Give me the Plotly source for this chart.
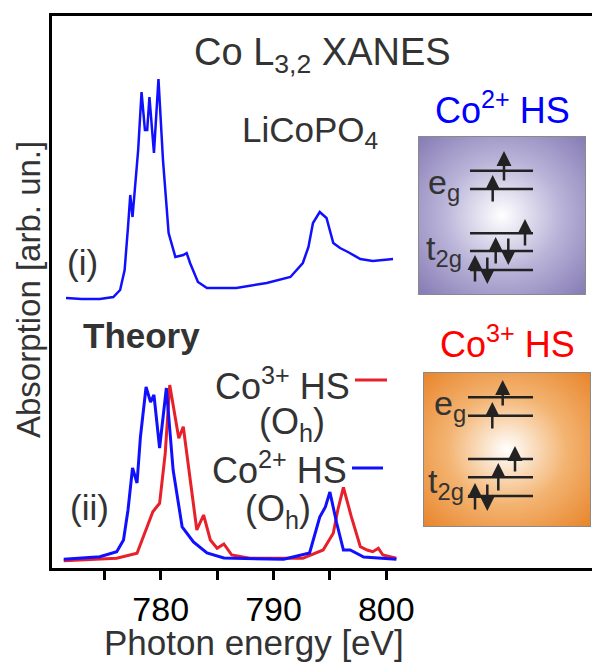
import base64
import plotly.graph_objects as go

# ---------------- data ----------------
exp_energy = [771.6, 773.0, 774.6, 775.8, 776.4, 776.8, 777.1, 777.3, 777.5, 777.8,
              778.0, 778.3, 778.6, 778.8, 779.0, 779.4, 779.8, 780.2, 780.7, 781.3,
              782.0, 782.3, 782.6, 783.3, 784.1, 786.7, 789.4, 791.5, 792.6, 793.1,
              793.5, 794.1, 794.7, 795.3, 795.9, 796.6, 797.7, 798.8, 800.6]
exp_licopo4 = [2.70, 2.69, 2.69, 2.71, 2.78, 2.98, 3.41, 3.73, 3.51, 3.88,
               4.18, 4.76, 4.38, 4.38, 4.71, 4.15, 4.89, 4.08, 3.35, 3.11,
               3.13, 3.15, 3.05, 2.86, 2.80, 2.80, 2.85, 2.91, 3.05, 3.21,
               3.45, 3.56, 3.50, 3.25, 3.20, 3.16, 3.09, 3.07, 3.09]

co2_energy = [771.4, 774.6, 776.1, 776.7, 777.1, 777.5, 777.9, 778.2, 778.7, 779.1,
              779.4, 779.9, 780.5, 781.1, 781.9, 782.9, 784.1, 785.6, 790.9, 793.2,
              794.1, 794.6, 795.0, 795.6, 796.2, 796.8, 798.0, 800.9]
co2_theory = [0.087, 0.113, 0.163, 0.28, 0.58, 1.00, 0.85, 1.31, 1.81, 1.66,
              1.73, 1.20, 1.80, 0.98, 0.41, 0.26, 0.15, 0.10, 0.087, 0.15,
              0.51, 0.61, 0.76, 0.45, 0.18, 0.18, 0.11, 0.087]

co3_energy = [771.4, 776.1, 777.9, 778.8, 779.3, 779.9, 780.4, 780.8, 781.6, 782.0,
              782.6, 783.2, 783.8, 784.4, 785.0, 785.6, 786.3, 787.9, 792.6, 794.4,
              795.3, 795.7, 796.2, 796.9, 797.7, 798.3, 798.8, 799.3, 799.7, 800.9]
co3_theory = [0.073, 0.097, 0.147, 0.413, 0.563, 0.647, 1.147, 1.83, 1.297, 1.413,
              0.88, 0.38, 0.53, 0.28, 0.197, 0.24, 0.13, 0.097, 0.097, 0.18,
              0.347, 0.58, 0.807, 0.513, 0.213, 0.18, 0.163, 0.197, 0.13, 0.097]

tick_values = [775, 780, 785, 790, 795, 800]
tick_labels = ["", "780", "", "790", "", "800"]

# ---------------- layout helpers (page pixel coordinates) ----------------
OFF = 8                      # default page margin of the html body
FIG_W, FIG_H = 600 - OFF, 664 - OFF
L, R, T, B = 52, 600, 16, 568
FONT = "Liberation Sans, Arial, sans-serif"
TXT = "#333333"


def px(xp):
    return (xp - L) / (R - L)


def py(yp):
    return (B - yp) / (B - T)


fig = go.Figure()
fig.add_trace(go.Scatter(x=exp_energy, y=exp_licopo4, mode="lines",
                         line=dict(color="#1010ff", width=2.5), name="LiCoPO4"))
fig.add_trace(go.Scatter(x=co3_energy, y=co3_theory, mode="lines",
                         line=dict(color="#e8202a", width=3), name="Co3+ HS (Oh)"))
fig.add_trace(go.Scatter(x=co2_energy, y=co2_theory, mode="lines",
                         line=dict(color="#1010ff", width=3), name="Co2+ HS (Oh)"))

annotations = []


def text(t, x, y, size=36, color=TXT, xanchor="center", yanchor="middle"):
    annotations.append(dict(text=t, x=px(x), y=py(y), xref="paper", yref="paper",
                            showarrow=False, xanchor=xanchor, yanchor=yanchor,
                            font=dict(family=FONT, size=size, color=color)))


text("Co L<sub>3,2</sub> XANES", 322, 55, size=38)
text("LiCoPO<sub>4</sub>", 240, 132, size=35, xanchor="left")
text("(i)", 82, 262, size=35)
text("<b>Theory</b>", 141, 335, size=35)
text("(ii)", 89, 507, size=35)
text("Co<sup>3+</sup> HS", 352, 384, size=36, xanchor="right")
text("(O<sub>h</sub>)", 292, 424, size=36)
text("Co<sup>2+</sup> HS", 349, 468, size=36, xanchor="right")
text("(O<sub>h</sub>)", 278, 511, size=36)
text("Co<sup>2+</sup> HS", 502, 108, size=36, color="#0000ff")
text("Co<sup>3+</sup> HS", 507, 342, size=36, color="#ff0000")
# energy level labels
text("e<sub>g</sub>", 426, 184, size=34, xanchor="left")
text("t<sub>2g</sub>", 424, 250, size=34, xanchor="left")
text("e<sub>g</sub>", 432, 405, size=34, xanchor="left")
text("t<sub>2g</sub>", 426, 483, size=34, xanchor="left")
# axis titles
annotations.append(dict(text="Absorption [arb. un.]", x=px(28), y=py(290), xref="paper", yref="paper",
                        showarrow=False, textangle=-90, xanchor="center", yanchor="middle",
                        font=dict(family=FONT, size=33, color=TXT)))
text("Photon energy [eV]", 254, 642, size=35)

# spin arrows (x, tip y, tail y) in page pixels
arrows = [
    (504, 151, 182), (492.7, 175, 203), (525, 219, 247), (495.7, 237, 265), (508.3, 265, 237),
    (475, 255, 283), (487.3, 284, 256),
    (502.7, 380, 407), (492.3, 402, 430), (515, 446, 473), (498.3, 463, 492),
    (475, 483, 511), (487.3, 511, 483),
]
for xa, ytip, ytail in arrows:
    annotations.append(dict(x=px(xa), y=py(ytip), xref="paper", yref="paper", text="",
                            showarrow=True, axref="pixel", ayref="pixel", ax=0, ay=ytail - ytip,
                            arrowhead=2, arrowsize=1.2, arrowwidth=2.5, arrowcolor="#222222",
                            standoff=0, startstandoff=0))

shapes = []


def hline(x0, x1, y, color="#222222", w=2.5):
    shapes.append(dict(type="line", xref="paper", yref="paper", x0=px(x0), x1=px(x1),
                       y0=py(y), y1=py(y), line=dict(color=color, width=w), layer="above"))


for yl in [170.7, 189, 233.3, 251, 270]:
    hline(470, 533, yl)
for yl in [397.3, 415.7, 459, 477.3, 496]:
    hline(468, 533, yl)
hline(355, 387, 380, color="#e8202a", w=3)
hline(352, 383, 468, color="#1010ff", w=3)


def box_svg(w, h, stops):
    st = "".join(f'<stop offset="{o}" stop-color="{c}"/>' for o, c in stops)
    svg = (f'<svg xmlns="http://www.w3.org/2000/svg" width="{w}" height="{h}" '
           f'viewBox="0 0 {w} {h}" preserveAspectRatio="none"><defs>'
           f'<radialGradient id="g" cx="50%" cy="50%" r="71%">{st}</radialGradient></defs>'
           f'<rect x="0.5" y="0.5" width="{w-1}" height="{h-1}" fill="url(#g)" '
           f'stroke="#8a8a8a" stroke-width="1"/></svg>')
    return "data:image/svg+xml;base64," + base64.b64encode(svg.encode()).decode()


images = [
    dict(source=box_svg(168, 159, [(0, "#ffffff"), (0.5, "#b9b3d8"), (1, "#857ab4")]),
         xref="paper", yref="paper", x=px(418), y=py(136), sizex=168 / (R - L), sizey=159 / (B - T),
         xanchor="left", yanchor="top", sizing="stretch", layer="above"),
    dict(source=box_svg(168, 155, [(0, "#ffffff"), (0.5, "#f3b472"), (1, "#e8842a")]),
         xref="paper", yref="paper", x=px(423), y=py(372), sizex=168 / (R - L), sizey=155 / (B - T),
         xanchor="left", yanchor="top", sizing="stretch", layer="above"),
]

fig.update_layout(
    width=FIG_W, height=FIG_H,
    margin=dict(l=L - OFF, r=600 - R, t=T - OFF, b=664 - B),
    paper_bgcolor="white", plot_bgcolor="rgba(0,0,0,0)",
    showlegend=False,
    annotations=annotations, shapes=shapes, images=images,
    xaxis=dict(range=[770.36, 818.95], showgrid=False, zeroline=False,
               showline=True, linecolor="black", linewidth=2.5, mirror=True,
               ticks="outside", ticklen=9, tickwidth=2.5, tickcolor="black",
               tickvals=tick_values, ticktext=tick_labels,
               tickfont=dict(family=FONT, size=34, color="black")),
    yaxis=dict(range=[0, 5.52], showgrid=False, zeroline=False,
               showline=True, linecolor="black", linewidth=2.5, mirror=False,
               showticklabels=False, ticks=""),
)

fig.write_html("out.html")
